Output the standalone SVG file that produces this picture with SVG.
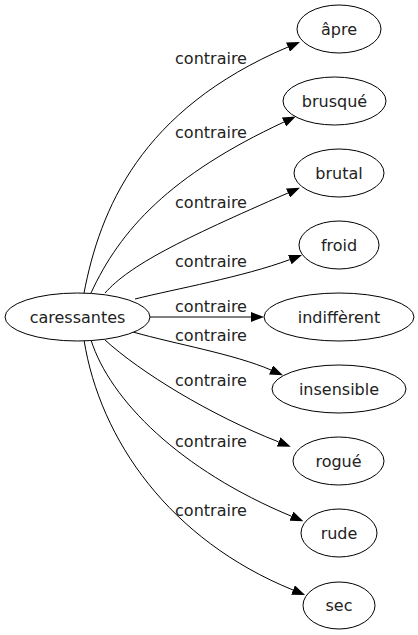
<svg xmlns="http://www.w3.org/2000/svg" width="418" height="635" viewBox="0 0 418 635">
<style>
  .node ellipse { fill: #ffffff; stroke: #000000; stroke-width: 1; }
  .node text { font-family: "DejaVu Sans", Verdana, sans-serif; font-size: 16px; fill: #222222; text-anchor: middle; }
  .edge path { fill: none; stroke: #000000; stroke-width: 1; marker-end: url(#arrow); }
  .label { font-family: "DejaVu Sans", Verdana, sans-serif; font-size: 16px; fill: #222222; text-anchor: middle; }
</style>
<defs>
  <marker id="arrow" viewBox="0 0 13 10" refX="0" refY="5" markerWidth="13" markerHeight="10" markerUnits="userSpaceOnUse" orient="auto">
    <path d="M0,0 L13,5 L0,10 z" fill="#000000"/>
  </marker>
</defs>
<rect width="418" height="635" fill="#ffffff"/>
<g id="edges">
  <g class="edge"><path d="M84,293 C100,210 140,110 288,47"/></g>
  <g class="edge"><path d="M91,293 C120,230 170,175 284,122"/></g>
  <g class="edge"><path d="M105,293 C130,265 180,240 288,193"/></g>
  <g class="edge"><path d="M135,299 C175,289 243,277 289.8,259.6"/></g>
  <g class="edge"><path d="M150,317 L251,317"/></g>
  <g class="edge"><path d="M133,332 C175,344 234,354 271,370"/></g>
  <g class="edge"><path d="M105,340 C140,372 210,415 278.6,441.9"/></g>
  <g class="edge"><path d="M91,340 C110,400 180,470 291.4,516.2"/></g>
  <g class="edge"><path d="M84,340 C100,440 170,540 293,590"/></g>
  <text class="label" x="211" y="64">contraire</text>
  <text class="label" x="211" y="138">contraire</text>
  <text class="label" x="211" y="208">contraire</text>
  <text class="label" x="211" y="267">contraire</text>
  <text class="label" x="211" y="312">contraire</text>
  <text class="label" x="211" y="341">contraire</text>
  <text class="label" x="211" y="386">contraire</text>
  <text class="label" x="211" y="447">contraire</text>
  <text class="label" x="211" y="516">contraire</text>
</g>
<g id="caressantes" class="node"><ellipse cx="77.5" cy="317" rx="72.5" ry="24"/><text x="77.5" y="323">caressantes</text></g>
<g id="apre" class="node"><ellipse cx="339" cy="29" rx="42" ry="24"/><text x="339" y="35">âpre</text></g>
<g id="brusque" class="node"><ellipse cx="334.5" cy="101" rx="51.5" ry="24"/><text x="334.5" y="107">brusqué</text></g>
<g id="brutal" class="node"><ellipse cx="339" cy="173" rx="45" ry="24"/><text x="339" y="179">brutal</text></g>
<g id="froid" class="node"><ellipse cx="339" cy="245" rx="40" ry="24"/><text x="339" y="251">froid</text></g>
<g id="indifferent" class="node"><ellipse cx="339" cy="317" rx="75" ry="24"/><text x="339" y="323">indiffèrent</text></g>
<g id="insensible" class="node"><ellipse cx="339" cy="389" rx="67" ry="24"/><text x="339" y="395">insensible</text></g>
<g id="rogue" class="node"><ellipse cx="338.5" cy="461" rx="45.5" ry="24"/><text x="338.5" y="467">rogué</text></g>
<g id="rude" class="node"><ellipse cx="339" cy="533" rx="38" ry="24"/><text x="339" y="539">rude</text></g>
<g id="sec" class="node"><ellipse cx="339" cy="605.5" rx="36" ry="23.5"/><text x="339" y="611">sec</text></g>
</svg>
